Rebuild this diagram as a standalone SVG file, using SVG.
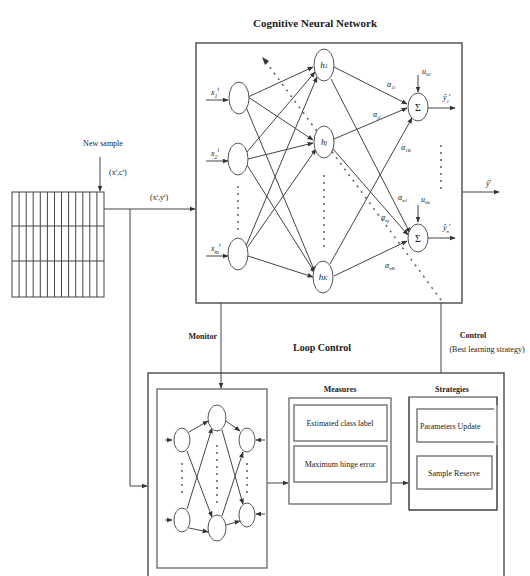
<svg xmlns="http://www.w3.org/2000/svg" width="530" height="576" viewBox="0 0 530 576">
<defs>
<marker id="ah" viewBox="0 0 10 10" refX="9" refY="5" markerWidth="6" markerHeight="6" orient="auto" markerUnits="userSpaceOnUse"><path d="M0,1 L10,5 L0,9 z" fill="#333"/></marker>
<style>
.ln{stroke:#444;stroke-width:1;fill:none}
.bx{stroke:#555;stroke-width:1.5;fill:none}
.bx2{stroke:#666;stroke-width:1.3;fill:#fff}
.nd{stroke:#555;stroke-width:1;fill:#fff}
.dot{stroke:#666;stroke-width:1.6;stroke-dasharray:2 5;fill:none}
.t{font-family:"Liberation Serif",serif;fill:#222}
.b{font-weight:bold}
</style>
</defs>
<rect width="530" height="576" fill="#fff"/>

<g id="title"><text class="t b" x="315" y="27" font-size="11" text-anchor="middle">Cognitive Neural Network</text></g>

<g id="cnn-box"><rect class="bx" x="196" y="43" width="266" height="260"/></g>

<g id="loop-box"><rect class="bx" x="148" y="373" width="356" height="215"/></g>

<g id="buffer">
<rect class="ln" x="12" y="192" width="92" height="105" stroke-width="1.2"/>
<path class="ln" d="M12,226H104M12,261H104" stroke-width="1.3"/>
<path class="ln" stroke-width="0.8" d="M19.1,192V297M26.2,192V297M33.2,192V297M40.3,192V297M47.4,192V297M54.5,192V297M61.5,192V297M68.6,192V297M75.7,192V297M82.8,192V297M89.8,192V297M96.9,192V297"/>
</g>

<g id="connectors">
<path class="ln" d="M100,157V191" marker-end="url(#ah)"/>
<path class="ln" d="M104,209H195" marker-end="url(#ah)"/>
<path class="ln" d="M130,209V486H147" marker-end="url(#ah)"/>
<path class="ln" d="M221,303V388" marker-end="url(#ah)"/>
<path class="ln" d="M441,303V373"/>
<path class="dot" d="M441,300L266,62"/>
<path d="M262,57L269,61L265,65z" fill="#333"/>
<path class="ln" d="M462,192H499" marker-end="url(#ah)"/>
<path class="ln" d="M206,100H228" marker-end="url(#ah)"/>
<path class="ln" d="M206,161H228" marker-end="url(#ah)"/>
<path class="ln" d="M206,256H228" marker-end="url(#ah)"/>
<g stroke-width="0.9">
<path class="ln" d="M248,97L313,67" marker-end="url(#ah)"/>
<path class="ln" d="M248,97L313,140" marker-end="url(#ah)"/>
<path class="ln" d="M246,107L315,272" marker-end="url(#ah)"/>
<path class="ln" d="M247,152L315,72" marker-end="url(#ah)"/>
<path class="ln" d="M248,159L313,143" marker-end="url(#ah)"/>
<path class="ln" d="M247,165L315,273" marker-end="url(#ah)"/>
<path class="ln" d="M246,246L317,77" marker-end="url(#ah)"/>
<path class="ln" d="M247,248L316,149" marker-end="url(#ah)"/>
<path class="ln" d="M248,256L313,277" marker-end="url(#ah)"/>
</g>
<g stroke-width="0.9">
<path class="ln" d="M334,67L407,104" marker-end="url(#ah)"/>
<path class="ln" d="M331,79L410,233" marker-end="url(#ah)"/>
<path class="ln" d="M334,139L407,108" marker-end="url(#ah)"/>
<path class="ln" d="M333,149L408,235" marker-end="url(#ah)"/>
<path class="ln" d="M330,264L412,118" marker-end="url(#ah)"/>
<path class="ln" d="M334,276L407,241" marker-end="url(#ah)"/>
</g>
<path class="ln" d="M418,75V92" marker-end="url(#ah)"/>
<path class="ln" d="M418,205V222" marker-end="url(#ah)"/>
<path class="ln" d="M428,108H455" marker-end="url(#ah)"/>
<path class="ln" d="M428,238H455" marker-end="url(#ah)"/>
<path class="ln" d="M267,483H288" marker-end="url(#ah)"/>
<path class="ln" d="M391,483H408" marker-end="url(#ah)"/>
</g>

<g id="dots">
<path class="dot" d="M238,186V232"/>
<path class="dot" d="M324,175V248"/>
<path class="dot" d="M441,145V192"/>
</g>

<g id="input-1"><ellipse class="nd" cx="239" cy="98" rx="10" ry="16"/><text class="t" x="211" y="95" font-size="8" font-style="italic">x<tspan dy="3" font-size="6">1</tspan><tspan dy="-7" font-size="6">t</tspan></text></g>
<g id="input-2"><ellipse class="nd" cx="238" cy="159" rx="10" ry="16"/><text class="t" x="211" y="156" font-size="8" font-style="italic">x<tspan dy="3" font-size="6">2</tspan><tspan dy="-7" font-size="6">t</tspan></text></g>
<g id="input-m"><ellipse class="nd" cx="238" cy="254" rx="10" ry="16"/><text class="t" x="211" y="251" font-size="8" font-style="italic">x<tspan dy="3" font-size="6">m</tspan><tspan dy="-7" font-size="6">t</tspan></text></g>

<g id="hidden-1"><ellipse class="nd" cx="324" cy="65" rx="10" ry="16"/><text class="t" x="324" y="68" font-size="9" text-anchor="middle" font-style="italic">h<tspan font-size="6">1</tspan></text></g>
<g id="hidden-j"><ellipse class="nd" cx="324" cy="142" rx="10" ry="16"/><text class="t" x="324" y="145" font-size="9" text-anchor="middle" font-style="italic">h<tspan font-size="6">j</tspan></text></g>
<g id="hidden-K"><ellipse class="nd" cx="323" cy="277" rx="10" ry="16"/><text class="t" x="323" y="280" font-size="9" text-anchor="middle" font-style="italic">h<tspan font-size="6">K</tspan></text></g>

<g id="output-1"><ellipse class="nd" cx="418" cy="107" rx="10" ry="14"/><text class="t" x="418" y="111" font-size="10" text-anchor="middle">Σ</text>
<text class="t" x="443" y="100" font-size="8" font-style="italic">ŷ<tspan dy="3" font-size="5">1</tspan><tspan dy="-7" font-size="5">t</tspan></text></g>
<g id="output-n"><ellipse class="nd" cx="418" cy="238" rx="10" ry="14"/><text class="t" x="418" y="242" font-size="10" text-anchor="middle">Σ</text>
<text class="t" x="443" y="230" font-size="8" font-style="italic">ŷ<tspan dy="3" font-size="5">n</tspan><tspan dy="-7" font-size="5">t</tspan></text></g>

<g id="weights" font-size="8" font-style="italic">
<text class="t" x="422" y="74">u<tspan dy="2" font-size="5">01</tspan></text>
<text class="t" x="421" y="202">u<tspan dy="2" font-size="5">0n</tspan></text>
<text class="t" x="387" y="87">α<tspan dy="2" font-size="5">11</tspan></text>
<text class="t" x="373" y="117">α<tspan dy="2" font-size="5">j1</tspan></text>
<text class="t" x="401" y="150">α<tspan dy="2" font-size="5">1K</tspan></text>
<text class="t" x="398" y="200">α<tspan dy="2" font-size="5">n1</tspan></text>
<text class="t" x="381" y="220">α<tspan dy="2" font-size="5">nj</tspan></text>
<text class="t" x="385" y="268">α<tspan dy="2" font-size="5">nK</tspan></text>
<text class="t" x="486" y="186">ŷ<tspan dy="-4" font-size="5">t</tspan></text>
</g>

<g id="labels">
<text class="t" x="103" y="146" font-size="8" text-anchor="middle">New sample</text>
<text class="t" x="109" y="175" font-size="8">(x<tspan dy="-3" font-size="5">t</tspan><tspan dy="3">,c</tspan><tspan dy="-3" font-size="5">t</tspan><tspan dy="3">)</tspan></text>
<text class="t" x="150" y="200" font-size="8">(x<tspan dy="-3" font-size="5">t</tspan><tspan dy="3">,y</tspan><tspan dy="-3" font-size="5">t</tspan><tspan dy="3">)</tspan></text>
<text class="t b" x="217" y="339" font-size="8" text-anchor="end">Monitor</text>
<text class="t b" x="322" y="351" font-size="10" text-anchor="middle">Loop Control</text>
<text class="t b" x="473" y="338" font-size="8" text-anchor="middle">Control</text>
<text class="t" x="487" y="352" font-size="8" text-anchor="middle">(Best learning strategy)</text>
</g>

<g id="monitor-net">
<rect class="bx2" x="157" y="389" width="110" height="179"/>
<g stroke-width="0.9">
<path class="ln" d="M165,440H172" marker-end="url(#ah)"/>
<path class="ln" d="M165,520H172" marker-end="url(#ah)"/>
<path class="ln" d="M265,440H256" marker-end="url(#ah)"/>
<path class="ln" d="M265,514H256" marker-end="url(#ah)"/>
<path class="ln" d="M189,432L208,421" marker-end="url(#ah)"/>
<path class="ln" d="M187,451L212,517" marker-end="url(#ah)"/>
<path class="ln" d="M187,509L212,428" marker-end="url(#ah)"/>
<path class="ln" d="M189,528L208,532" marker-end="url(#ah)"/>
<path class="ln" d="M226,421L240,431" marker-end="url(#ah)"/>
<path class="ln" d="M222,430L243,504" marker-end="url(#ah)"/>
<path class="ln" d="M222,516L243,452" marker-end="url(#ah)"/>
<path class="ln" d="M226,525L240,521" marker-end="url(#ah)"/>
</g>
<ellipse class="nd" cx="182" cy="440" rx="8" ry="12"/>
<ellipse class="nd" cx="182" cy="520" rx="8" ry="12"/>
<ellipse class="nd" cx="217" cy="418" rx="9" ry="13"/>
<ellipse class="nd" cx="217" cy="528" rx="9" ry="13"/>
<ellipse class="nd" cx="247" cy="440" rx="8" ry="12"/>
<ellipse class="nd" cx="247" cy="515" rx="8" ry="12"/>
<path class="dot" d="M182,463V497M247,463V493M217,445V505" stroke-width="1.2" stroke-dasharray="1.5 5"/>
</g>

<g id="measures">
<text class="t b" x="340" y="392" font-size="8" text-anchor="middle">Measures</text>
<rect class="bx2" x="289" y="398" width="102" height="106"/>
<rect class="bx2" x="294" y="405" width="93" height="36"/>
<text class="t" x="340" y="426" font-size="8" text-anchor="middle">Estimated class label</text>
<rect class="bx2" x="294" y="446" width="93" height="36"/>
<text class="t" x="340" y="467" font-size="8" text-anchor="middle">Maximum hinge error</text>
</g>

<g id="strategies">
<text class="t b" x="452" y="392" font-size="8" text-anchor="middle">Strategies</text>
<rect class="bx2" x="409" y="397" width="88" height="113"/>
<rect class="bx2" x="417" y="409" width="80" height="33"/>
<text class="t" x="420" y="429" font-size="8">Parameters Update</text>
<rect class="bx2" x="417" y="456" width="75" height="33"/>
<text class="t" x="454" y="476" font-size="8" text-anchor="middle">Sample Reserve</text>
<rect x="494" y="405" width="8" height="40" fill="#fff"/>
<path class="ln" d="M409,397V510H497V397" stroke="#666" stroke-width="1.3"/>
</g>
</svg>
